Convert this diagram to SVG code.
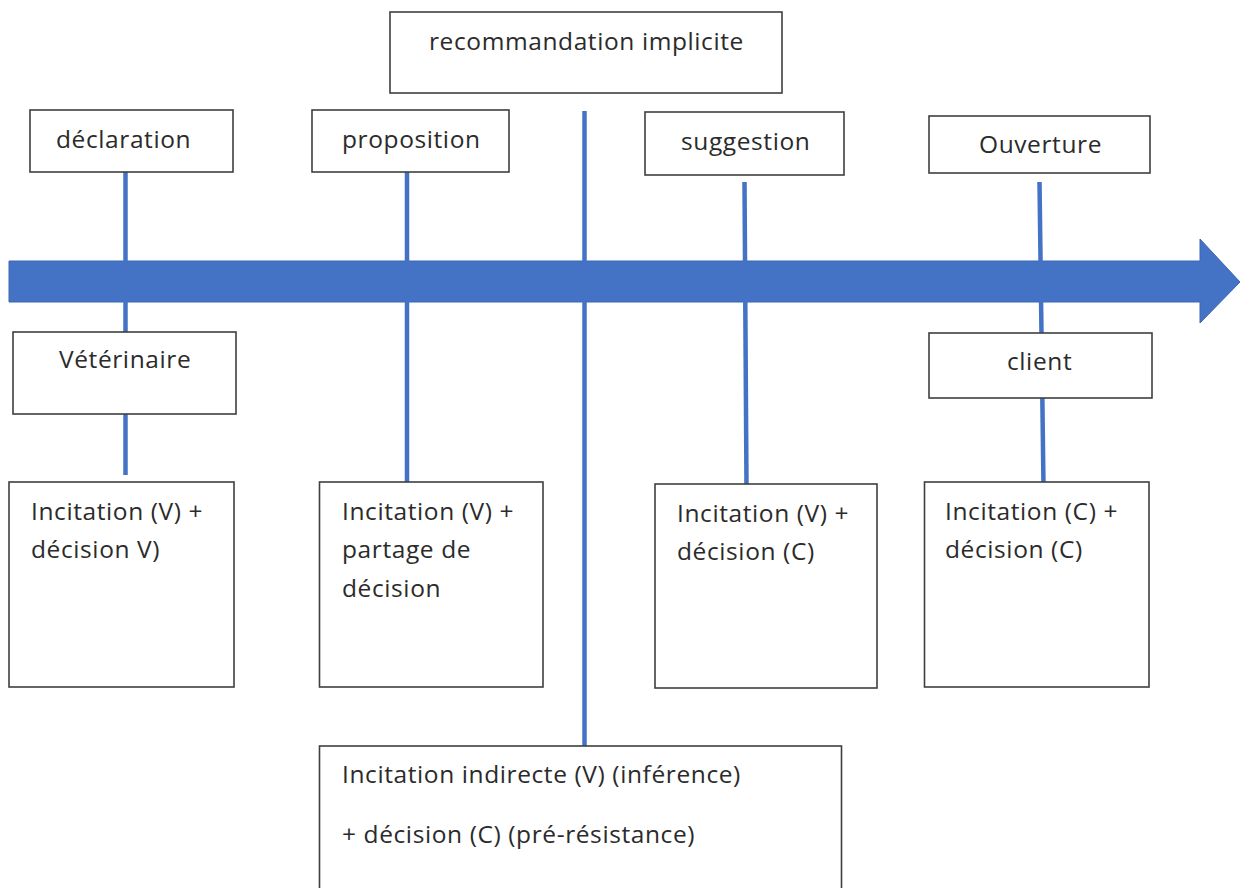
<svg xmlns="http://www.w3.org/2000/svg" width="1240" height="888" viewBox="0 0 1240 888">
<style>
.box{fill:#fff;stroke:#3f3f3f;stroke-width:1.6}
.lbl{font-family:"Open Sans",Lato,sans-serif;font-size:24.5px;letter-spacing:0.6px;fill:#2b2b2b;font-variant-ligatures:none}
.ln{stroke:#4472c4;stroke-width:4.5;fill:none}
</style>
<rect width="1240" height="888" fill="#fff"/>
<g id="timeline">
<polygon points="9,261 1200,261 1200,239 1240,282 1200,323 1200,302 9,302" fill="#4472c4" stroke="#3b66b4" stroke-width="1"/>
</g>
<g id="connectors">
<line class="ln" x1="125.5" y1="172" x2="125.5" y2="475"/>
<line class="ln" x1="407" y1="172" x2="407" y2="482"/>
<line class="ln" x1="584.5" y1="111" x2="584.5" y2="746"/>
<line class="ln" x1="744.5" y1="182" x2="746.5" y2="485"/>
<line class="ln" x1="1039.5" y1="182" x2="1043.5" y2="486"/>
</g>
<g id="recommandation"><rect class="box" x="390" y="12" width="392" height="81"/><text class="lbl" x="429" y="50">recommandation implicite</text></g>
<g id="declaration"><rect class="box" x="30" y="110" width="203" height="62"/><text class="lbl" x="56" y="148">déclaration</text></g>
<g id="proposition"><rect class="box" x="312" y="110" width="197" height="62"/><text class="lbl" x="342" y="148">proposition</text></g>
<g id="suggestion"><rect class="box" x="645" y="112" width="199" height="63"/><text class="lbl" x="681" y="150">suggestion</text></g>
<g id="ouverture"><rect class="box" x="929" y="116" width="221" height="57"/><text class="lbl" x="979" y="153">Ouverture</text></g>
<g id="veterinaire"><rect class="box" x="13" y="332" width="223" height="82"/><text class="lbl" x="59" y="368">Vétérinaire</text></g>
<g id="client"><rect class="box" x="929" y="333" width="223" height="65"/><text class="lbl" x="1007" y="370">client</text></g>
<g id="box1"><rect class="box" x="9" y="482" width="225" height="205"/><text class="lbl"><tspan x="31" y="520">Incitation (V) +</tspan><tspan x="31" y="558">décision V)</tspan></text></g>
<g id="box2"><rect class="box" x="319.5" y="482" width="223.5" height="205"/><text class="lbl"><tspan x="342" y="520">Incitation (V) +</tspan><tspan x="342" y="558">partage de</tspan><tspan x="342" y="597">décision</tspan></text></g>
<g id="box3"><rect class="box" x="655" y="484" width="222" height="204"/><text class="lbl"><tspan x="677" y="522">Incitation (V) +</tspan><tspan x="677" y="560">décision (C)</tspan></text></g>
<g id="box4"><rect class="box" x="924.5" y="482" width="224.5" height="205"/><text class="lbl"><tspan x="945" y="520">Incitation (C) +</tspan><tspan x="945" y="558">décision (C)</tspan></text></g>
<g id="box5"><rect class="box" x="319.5" y="746" width="522" height="160"/><text class="lbl"><tspan x="342" y="783">Incitation indirecte (V) (inférence)</tspan><tspan x="342" y="843">+ décision (C) (pré-résistance)</tspan></text></g>
</svg>
